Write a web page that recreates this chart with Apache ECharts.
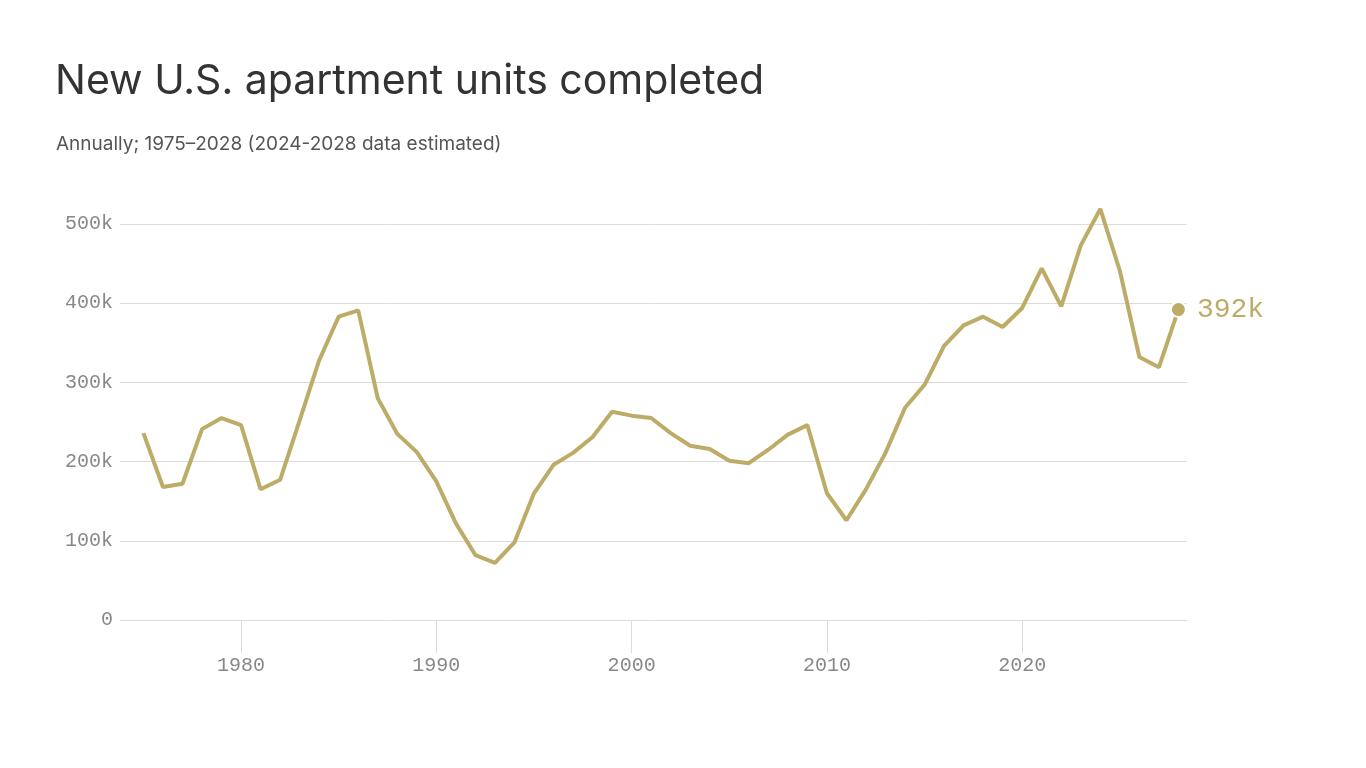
<!DOCTYPE html>
<html>
<head>
<meta charset="utf-8">
<script src="https://cdn.jsdelivr.net/npm/echarts@6/dist/echarts.min.js"></script>
<style>
html,body{margin:0;padding:0;background:#fff;}
#chart{width:1366px;height:768px;}
</style>
</head>
<body>
<div id="chart"></div>
<script>
var years = [1975,1976,1977,1978,1979,1980,1981,1982,1983,1984,1985,1986,1987,1988,1989,1990,1991,1992,1993,1994,1995,1996,1997,1998,1999,2000,2001,2002,2003,2004,2005,2006,2007,2008,2009,2010,2011,2012,2013,2014,2015,2016,2017,2018,2019,2020,2021,2022,2023,2024,2025,2026,2027,2028];
var units = [236,168,172,241,255,246,165,177,252,328,383,391,280,235,212,175,122,82,72,98,160,196,211,231,263,258,255,236,220,216,201,198,215,234,246,160,126,165,211,268,297,346,372,383,370,394,444,396,473,519,441,332,319,392];
var xTickYears = [1980,1990,2000,2010,2020];
var yTicks = [0,100,200,300,400,500];

var lineColor = '#BDAC68';
var pts = years.map(function(y,i){return [y, units[i]*1000];});
var last = pts[pts.length-1];

var chart = echarts.init(document.getElementById('chart'));
chart.setOption({
  backgroundColor:'#fff',
  animation:false,
  title:[{
    text:'New U.S. apartment units completed',
    left:50, top:56,
    textStyle:{fontFamily:'Inter', fontSize:41, fontWeight:'normal', color:'#333'}
  },{
    text:'Annually; 1975–2028 (2024-2028 data estimated)',
    left:51, top:130,
    textStyle:{fontFamily:'Inter', fontSize:19, fontWeight:'normal', color:'#555'}
  }],
  grid:{left:120, right:179, top:224, bottom:148},
  xAxis:{
    type:'value', min:1973.8, max:2028.44,
    splitLine:{show:false},
    axisLine:{show:true, lineStyle:{color:'#dcdcdc', width:1}},
    axisTick:{show:true, length:33, customValues:xTickYears, lineStyle:{color:'#dcdcdc'}},
    axisLabel:{customValues:xTickYears, margin:36, fontFamily:'Liberation Mono', fontSize:20, color:'#888',
      formatter:function(v){return String(v);}}
  },
  yAxis:{
    type:'value', min:0, max:500000, interval:100000,
    axisLine:{show:false}, axisTick:{show:false},
    splitLine:{lineStyle:{color:'#dcdcdc', width:1}},
    axisLabel:{margin:7, fontFamily:'Liberation Mono', fontSize:20, color:'#888', padding:[3,0,0,0],
      formatter:function(v){return v===0?'0':(v/1000)+'k';}}
  },
  series:[{
    type:'line', data:pts, showSymbol:false, clip:false,
    lineStyle:{color:lineColor, width:4}, z:2
  },{
    type:'scatter', data:[last], symbolSize:15, clip:false, z:3,
    itemStyle:{color:lineColor, borderColor:'#fff', borderWidth:2, opacity:1},
    label:{show:true, position:'right', distance:10, fontFamily:'Liberation Mono', fontSize:28, color:lineColor,
      formatter:function(p){return Math.round(p.value[1]/1000)+'k';}}
  }]
});
</script>
</body>
</html>
